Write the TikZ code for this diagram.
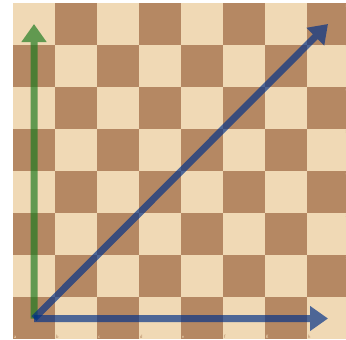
\documentclass[tikz,border=0pt]{standalone}
\usetikzlibrary{arrows.meta}
\definecolor{lightsq}{HTML}{F0D9B5}
\definecolor{darksq}{HTML}{B58863}
\definecolor{arrgreen}{HTML}{15781B}
\definecolor{arrblue}{HTML}{003088}
\tikzset{
  coordlbl/.style={font=\fontsize{5}{6}\selectfont\sffamily, inner sep=0.6pt},
  movearrow/.style={line width=7pt, line cap=butt, -{Triangle[length=18pt,width=24pt]}}
}
\begin{document}
\begin{tikzpicture}[x=1pt,y=-1pt]
\useasboundingbox (0,0) rectangle (346,340);
\fill[white] (0,0) rectangle (346,340);
% board
\foreach \c in {0,...,7}{
  \foreach \r in {0,...,7}{
    \pgfmathtruncatemacro{\sqpar}{mod(\c+\r,2)}
    \ifnum\sqpar=0
      \fill[lightsq] (13+42*\c,3+42*\r) rectangle ++(42,42);
    \else
      \fill[darksq] (13+42*\c,3+42*\r) rectangle ++(42,42);
    \fi
  }
}
% file labels
\foreach \f [count=\i from 0] in {a,b,c,d,e,f,g,h}{
  \pgfmathtruncatemacro{\sqpar}{mod(\i,2)}
  \ifnum\sqpar=0
    \node[coordlbl, text=lightsq, anchor=south west] (file\f) at (13+42*\i,339) {\f};
  \else
    \node[coordlbl, text=darksq, anchor=south west] (file\f) at (13+42*\i,339) {\f};
  \fi
}
% rank labels (cut at the right edge, as in the reference)
\foreach \k [count=\i from 0] in {8,7,6,5,4,3,2,1}{
  \pgfmathtruncatemacro{\sqpar}{mod(\i,2)}
  \ifnum\sqpar=0
    \node[coordlbl, text=lightsq, anchor=north east] (rank\k) at (349,3+42*\i) {\k};
  \else
    \node[coordlbl, text=darksq, anchor=north east] (rank\k) at (349,3+42*\i) {\k};
  \fi
}
% square centres
\coordinate (a1) at (34,318.5);
\coordinate (h1) at (328,318.5);
\coordinate (h8) at (328,24);
\coordinate (a8) at (34,24);
% arrows
\begin{scope}[transparency group, opacity=0.65]
  \draw[movearrow, arrgreen] (a1) -- (a8);
\end{scope}
\begin{scope}[transparency group, opacity=0.68]
  \draw[movearrow, arrblue] (a1) -- (h8);
\end{scope}
\begin{scope}[transparency group, opacity=0.68]
  \draw[movearrow, arrblue] (a1) -- (h1);
\end{scope}
\end{tikzpicture}
\end{document}
